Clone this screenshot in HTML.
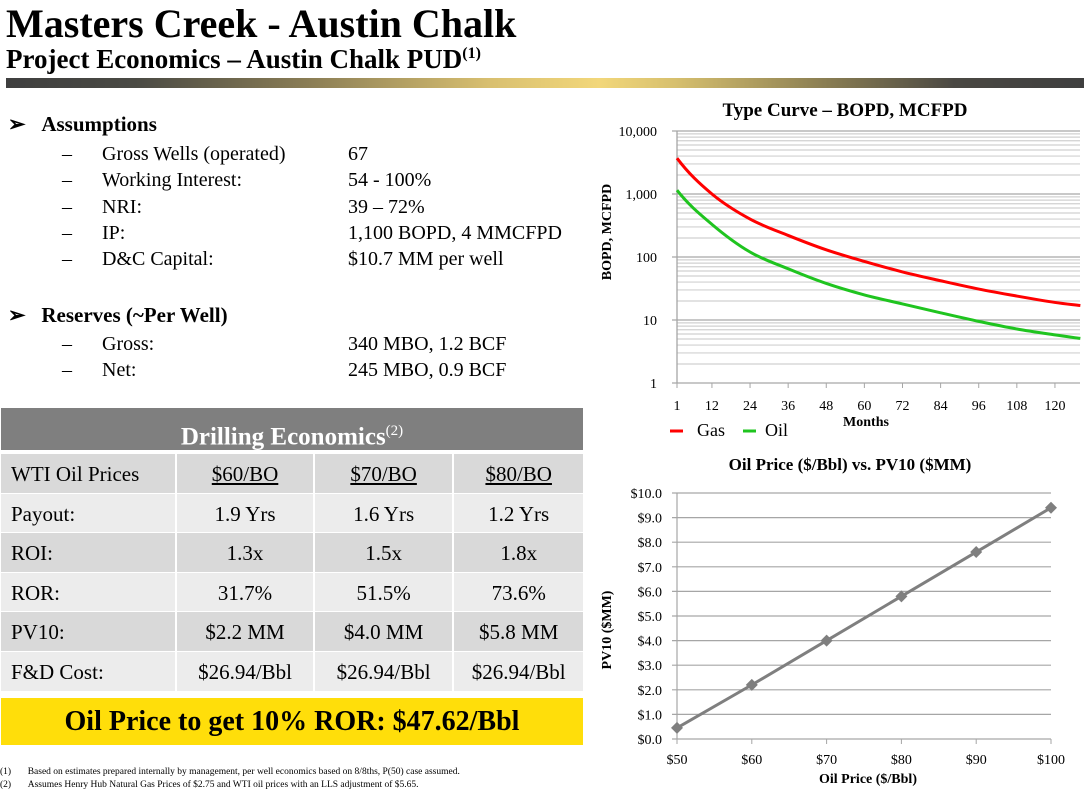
<!DOCTYPE html>
<html><head><meta charset="utf-8">
<style>
body{margin:0;width:1084px;height:792px;position:relative;background:#fff;font-family:"Liberation Serif","DejaVu Serif",serif;color:#000;overflow:hidden}
div,span,sup{font-family:"Liberation Serif","DejaVu Serif",serif}
.a{position:absolute;white-space:nowrap}
.t{font-size:20px;line-height:20px}
.h{font-size:21px;font-weight:bold}
</style></head><body>
<div class="a" style="left:6px;top:0px;font-size:40px;font-weight:bold">Masters Creek - Austin Chalk</div>
<div class="a" style="left:6px;top:44px;font-size:27px;font-weight:bold">Project Economics – Austin Chalk PUD<sup style="font-size:16px">(1)</sup></div>
<div class="a" style="left:6px;top:78px;width:1078px;height:10px;background:linear-gradient(90deg,#3f3f3f 0%,#4a4a44 12%,#8a7d55 28%,#d9c070 45%,#f2d77a 55%,#d7c06e 62%,#8f8254 75%,#4a4843 88%,#3f3f3f 100%)"></div>

<div class="a h" style="left:8px;top:112px">➢&nbsp;&nbsp;&nbsp;Assumptions</div>
<div class="a t" style="left:62px;top:141px;line-height:26.3px">–&nbsp;&nbsp;&nbsp;&nbsp;&nbsp;&nbsp;Gross Wells (operated)<br>–&nbsp;&nbsp;&nbsp;&nbsp;&nbsp;&nbsp;Working Interest:<br>–&nbsp;&nbsp;&nbsp;&nbsp;&nbsp;&nbsp;NRI:<br>–&nbsp;&nbsp;&nbsp;&nbsp;&nbsp;&nbsp;IP:<br>–&nbsp;&nbsp;&nbsp;&nbsp;&nbsp;&nbsp;D&amp;C Capital:</div>
<div class="a t" style="left:348px;top:141px;line-height:26.3px">67<br>54 - 100%<br>39 – 72%<br>1,100 BOPD, 4 MMCFPD<br>$10.7 MM per well</div>
<div class="a h" style="left:8px;top:303px">➢&nbsp;&nbsp;&nbsp;Reserves (~Per Well)</div>
<div class="a t" style="left:62px;top:331px;line-height:26.3px">–&nbsp;&nbsp;&nbsp;&nbsp;&nbsp;&nbsp;Gross:<br>–&nbsp;&nbsp;&nbsp;&nbsp;&nbsp;&nbsp;Net:</div>
<div class="a t" style="left:348px;top:331px;line-height:26.3px">340 MBO, 1.2 BCF<br>245 MBO, 0.9 BCF</div>

<div class="a" style="left:1px;top:408px;width:582px;height:42px;background:#7f7f7f;color:#fff;font-size:25px;font-weight:bold;text-align:center;line-height:46px">Drilling Economics<sup style="font-size:15px;font-weight:normal">(2)</sup></div>
<div class="a" style="left:1px;top:454px;width:582px;font-size:21px">
<div id="rows"></div></div>
<div class="a" style="left:1px;top:698px;width:582px;height:47px;background:#ffde0a;font-size:28px;font-weight:bold;text-align:center;line-height:48px">Oil Price to get 10% ROR: $47.62/Bbl</div>
<div class="a" style="left:0px;top:766px;font-size:9.5px;line-height:13px">(1)&nbsp;&nbsp;&nbsp;&nbsp;&nbsp;&nbsp;&nbsp;Based on estimates prepared internally by management, per well economics based on 8/8ths, P(50) case assumed.<br>(2)&nbsp;&nbsp;&nbsp;&nbsp;&nbsp;&nbsp;&nbsp;Assumes Henry Hub Natural Gas Prices of $2.75 and WTI oil prices with an LLS adjustment of $5.65.</div>

<svg class="a" style="left:0;top:0" width="1084" height="792" id="svg"></svg>

<script>
const rowData=[["WTI Oil Prices","$60/BO","$70/BO","$80/BO"],["Payout:","1.9 Yrs","1.6 Yrs","1.2 Yrs"],["ROI:","1.3x","1.5x","1.8x"],["ROR:","31.7%","51.5%","73.6%"],["PV10:","$2.2 MM","$4.0 MM","$5.8 MM"],["F&D Cost:","$26.94/Bbl","$26.94/Bbl","$26.94/Bbl"]];
const colW=[166,137,139,130];
const rowsEl=document.getElementById('rows');
rowData.forEach((r,i)=>{
  const row=document.createElement('div');
  
  
  row.style.cssText='display:flex;height:38.6px;line-height:40px;border-bottom:1.5px solid #fff';
  r.forEach((c,j)=>{
    const d=document.createElement('div');
    
    
    d.style.cssText='width:'+colW[j]+'px;background:'+(i%2==0?'#d9d9d9':'#ececec')+';border-right:'+(j<3?'2px solid #fff':'0')+';text-align:'+(j==0?'left':'center')+';padding-left:'+(j==0?'10px':'0')+';'+(i==0&&j>0?'text-decoration:underline;':'');
    d.textContent=c;row.appendChild(d);
  });
  rowsEl.appendChild(row);
});

const NS='http://www.w3.org/2000/svg';
const svg=document.getElementById('svg');
function el(tag,attrs,txt){const e=document.createElementNS(NS,tag);for(const k in attrs)e.setAttribute(k,attrs[k]);if(txt!==undefined)e.textContent=txt;svg.appendChild(e);return e;}

// Type curve chart data
const months=[1,12,24,36,48,60,72,84,96,108,120,128];
const gasRate=[3700,1000,400,220,130,85,58,42,31,24,19,17];
const oilRate=[1150,330,120,65,38,25,18,13,9.5,7.2,5.8,5.1];
const monthTicks=[1,12,24,36,48,60,72,84,96,108,120];
const rateTicks=[1,10,100,1000,10000];
const rateLabels=["1","10","100","1,000","10,000"];
const X1=m=>677+(m-1)*3.176;
const Y1=v=>383-Math.log10(v)*63;
for(let d=0;d<4;d++)for(let k=2;k<10;k++){
  const g=el('line',{x1:677,x2:1080,y1:Y1(k*Math.pow(10,d)),y2:Y1(k*Math.pow(10,d)),stroke:'#d0d0d0','stroke-width':1.2});
  
  
}
rateTicks.forEach((v,i)=>{
  const g=el('line',{x1:672,x2:1080,y1:Y1(v),y2:Y1(v),stroke:'#a6a6a6','stroke-width':1.3});
  
  
  const t=el('text',{x:657,y:Y1(v)+5,'text-anchor':'end','font-size':14,'font-family':'Liberation Serif'},rateLabels[i]);
  
  
});
el('line',{x1:677,x2:677,y1:131,y2:383,stroke:'#a6a6a6','stroke-width':1.3});
monthTicks.forEach(m=>{
  el('line',{x1:X1(m),x2:X1(m),y1:383,y2:388,stroke:'#a6a6a6'});
  const t=el('text',{x:X1(m),y:410,'text-anchor':'middle','font-size':14,'font-family':'Liberation Serif'},m);
  
  
});
function smooth(vals){
  const pts=months.map((m,i)=>[X1(m),Y1(vals[i])]);
  const n=pts.length;
  const ext0=[2*pts[0][0]-pts[1][0],pts[0][1]-(pts[1][1]-pts[0][1])*1.6];
  const extN=[2*pts[n-1][0]-pts[n-2][0],2*pts[n-1][1]-pts[n-2][1]];
  const P=[ext0,...pts,extN];
  let d='M'+pts[0][0]+','+pts[0][1];
  for(let i=1;i<P.length-2;i++){const p0=P[i-1],p1=P[i],p2=P[i+1],p3=P[i+2];
    d+=' C'+(p1[0]+(p2[0]-p0[0])/6)+','+(p1[1]+(p2[1]-p0[1])/6)+' '+(p2[0]-(p3[0]-p1[0])/6)+','+(p2[1]-(p3[1]-p1[1])/6)+' '+p2[0]+','+p2[1];}
  return d;}
const gp=el('path',{d:smooth(gasRate),fill:'none',stroke:'#ff0000','stroke-width':3});


const op=el('path',{d:smooth(oilRate),fill:'none',stroke:'#1fc41f','stroke-width':3});


let t;
t=el('text',{x:845,y:116,'text-anchor':'middle','font-size':19,'font-weight':'bold','font-family':'Liberation Serif'},'Type Curve – BOPD, MCFPD');

t=el('text',{x:0,y:0,transform:'translate(611,232) rotate(-90)','text-anchor':'middle','font-size':14,'font-weight':'bold','font-family':'Liberation Serif'},'BOPD, MCFPD');

t=el('text',{x:866,y:426,'text-anchor':'middle','font-size':14,'font-weight':'bold','font-family':'Liberation Serif'},'Months');

el('line',{x1:670,x2:683,y1:431,y2:431,stroke:'#ff0000','stroke-width':3});
t=el('text',{x:697,y:436,'font-size':18,'font-family':'Liberation Serif'},'Gas');

el('line',{x1:743,x2:756,y1:431,y2:431,stroke:'#1fc41f','stroke-width':3});
t=el('text',{x:765,y:436,'font-size':18,'font-family':'Liberation Serif'},'Oil');


// PV10 chart data
const prices=[50,60,70,80,90,100];
const pv10=[0.45,2.2,4.0,5.8,7.6,9.4];
const priceLabels=["$50","$60","$70","$80","$90","$100"];
const pvTicks=[0,1,2,3,4,5,6,7,8,9,10];
const X2=p=>677+(p-50)*7.48;
const Y2=v=>739-v*24.6;
pvTicks.forEach(v=>{
  const g=el('line',{x1:672,x2:1051,y1:Y2(v),y2:Y2(v),stroke:'#a6a6a6','stroke-width':1.2});
  
  const tt=el('text',{x:662,y:Y2(v)+5,'text-anchor':'end','font-size':14,'font-family':'Liberation Serif'},'$'+v.toFixed(1));
  
});
el('line',{x1:677,x2:677,y1:Y2(10),y2:739,stroke:'#a6a6a6','stroke-width':1.2});
prices.forEach((p,i)=>{
  el('line',{x1:X2(p),x2:X2(p),y1:739,y2:744,stroke:'#a6a6a6'});
  const tt=el('text',{x:X2(p),y:764,'text-anchor':'middle','font-size':14,'font-family':'Liberation Serif'},priceLabels[i]);
  
});
const lp=el('path',{d:prices.map((p,i)=>(i?'L':'M')+X2(p)+','+Y2(pv10[i])).join(''),fill:'none',stroke:'#7f7f7f','stroke-width':3});

prices.forEach((p,i)=>{
  const x=X2(p),y=Y2(pv10[i]);
  const m=el('path',{d:`M${x},${y-6}L${x+6},${y}L${x},${y+6}L${x-6},${y}Z`,fill:'#7f7f7f'});
  
});
t=el('text',{x:850,y:470,'text-anchor':'middle','font-size':17,'font-weight':'bold','font-family':'Liberation Serif'},'Oil Price ($/Bbl) vs. PV10 ($MM)');

t=el('text',{x:0,y:0,transform:'translate(611,630) rotate(-90)','text-anchor':'middle','font-size':14,'font-weight':'bold','font-family':'Liberation Serif'},'PV10 ($MM)');

t=el('text',{x:868,y:783,'text-anchor':'middle','font-size':14,'font-weight':'bold','font-family':'Liberation Serif'},'Oil Price ($/Bbl)');

</script>
</body></html>
